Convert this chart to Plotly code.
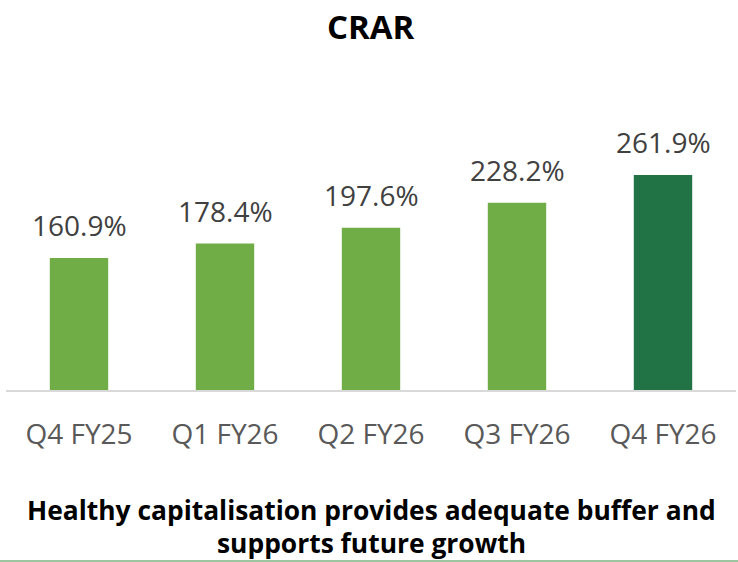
import plotly.graph_objects as go

categories = ["Q4 FY25", "Q1 FY26", "Q2 FY26", "Q3 FY26", "Q4 FY26"]
crar = [160.9, 178.4, 197.6, 228.2, 261.9]
labels = ["160.9%", "178.4%", "197.6%", "228.2%", "261.9%"]
colors = ["#70AD47", "#70AD47", "#70AD47", "#70AD47", "#217346"]
title_text = "CRAR"
footer_lines = ["Healthy capitalisation provides adequate buffer and", "supports future growth"]

FONT = "Open Sans"
W, H = 738, 562
L, R, T, B = 6, 2, 60, 172
plot_h = H - T - B

fig = go.Figure()
fig.add_trace(go.Bar(
    x=categories, y=crar, marker=dict(color=colors, line=dict(width=0)),
    width=0.4, hoverinfo="skip",
))

for c, v, t in zip(categories, crar, labels):
    fig.add_annotation(x=c, y=v, text=t, showarrow=False, yanchor="bottom",
                       yshift=12, font=dict(family=FONT, size=28, color="#404040"))

def py(pix):
    return (H - B - pix) / plot_h

fig.add_annotation(xref="paper", yref="paper", x=0.5, y=py(26), text="<b>" + title_text + "</b>",
                   showarrow=False, yanchor="middle", font=dict(family=FONT, size=33, color="#000000"))
fig.add_annotation(xref="paper", yref="paper", x=0.5, y=py(510), text="<b>" + footer_lines[0] + "</b>",
                   showarrow=False, yanchor="middle", font=dict(family=FONT, size=26.4, color="#000000"))
fig.add_annotation(xref="paper", yref="paper", x=0.5, y=py(543), text="<b>" + footer_lines[1] + "</b>",
                   showarrow=False, yanchor="middle", font=dict(family=FONT, size=26.4, color="#000000"))

fig.add_shape(type="line", xref="paper", yref="paper", x0=-L / (W - L - R), x1=1 + R / (W - L - R),
              y0=py(561), y1=py(561), line=dict(color="#9CC5A0", width=2))

fig.update_layout(
    width=W, height=H, margin=dict(l=L, r=R, t=T, b=B),
    plot_bgcolor="white", paper_bgcolor="white", showlegend=False,
    bargap=0.6,
    xaxis=dict(showline=True, linecolor="#D9D9D9", linewidth=2, showgrid=False, zeroline=False,
               tickfont=dict(family=FONT, size=28, color="#595959"), ticks="", ticklabelstandoff=18,
               fixedrange=True),
    yaxis=dict(range=[0, plot_h / 0.8209], visible=False, fixedrange=True),
)

fig.write_html("out.html", config={"displayModeBar": False},
               post_script="document.body.style.margin='0';document.body.style.overflow='hidden';")
